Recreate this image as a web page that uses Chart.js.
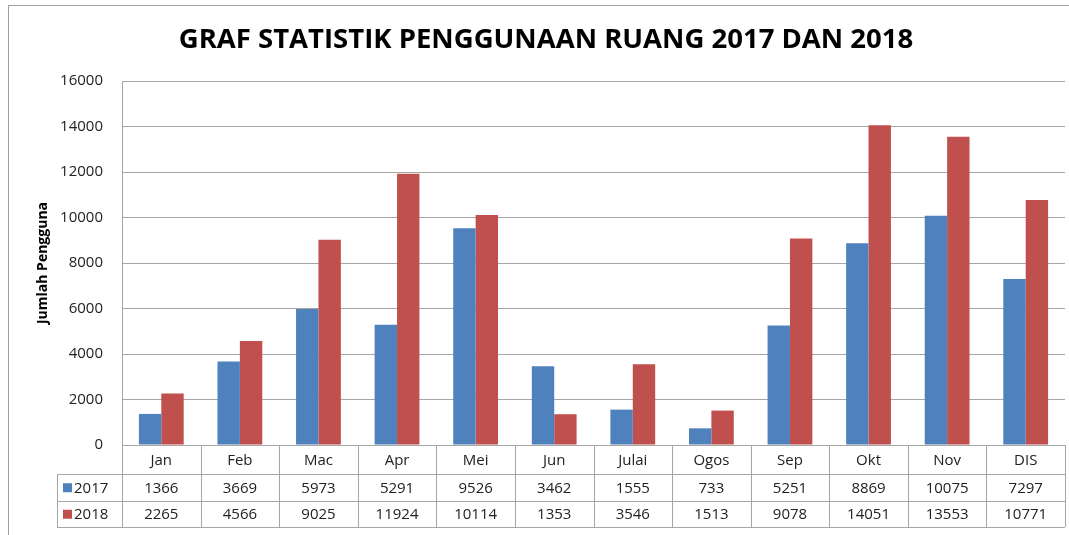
<!DOCTYPE html>
<html>
<head>
<meta charset="utf-8">
<script src="https://cdn.jsdelivr.net/npm/chart.js@4.4.0/dist/chart.umd.min.js"></script>
<style>
  html, body { margin: 0; padding: 0; background: #fff; overflow: hidden; }
  #box { position: absolute; left: 0; top: 0; width: 1069px; height: 535px; }
</style>
</head>
<body>
<div id="box"><canvas id="Grafico" width="1069" height="535"></canvas></div>
<script>
const labels = ['Jan', 'Feb', 'Mac', 'Apr', 'Mei', 'Jun', 'Julai', 'Ogos', 'Sep', 'Okt', 'Nov', 'DIS'];
const data2017 = [1366, 3669, 5973, 5291, 9526, 3462, 1555, 733, 5251, 8869, 10075, 7297];
const data2018 = [2265, 4566, 9025, 11924, 10114, 1353, 3546, 1513, 9078, 14051, 13553, 10771];
const yTicks = [0, 2000, 4000, 6000, 8000, 10000, 12000, 14000, 16000];

const fontFam = '"Open Sans", "DejaVu Sans", sans-serif';
const lineCol = '#a6a6a6';

// outer frame of the chart (the right side is cut off in the original)
const framePlugin = {
    id: 'frame',
    beforeDraw(chart) {
        const ctx = chart.ctx;
        ctx.save();
        ctx.strokeStyle = '#a0a0a0';
        ctx.lineWidth = 1;
        ctx.strokeRect(8.5, 5.5, 1200, 600);
        ctx.restore();
    }
};

// data table under the plot
const tablePlugin = {
    id: 'dataTable',
    afterDraw(chart) {
        const ctx = chart.ctx;
        const xs = chart.scales.x;
        const area = chart.chartArea;
        const n = labels.length;
        const w = (area.right - area.left) / n;
        const y0 = area.bottom, y1 = y0 + 29, y2 = y1 + 26.5, y3 = y2 + 26.5;
        const legLeft = 57;

        ctx.save();
        ctx.strokeStyle = lineCol;
        ctx.lineWidth = 1;
        ctx.beginPath();
        // horizontal lines
        ctx.moveTo(legLeft, Math.round(y1) + 0.5); ctx.lineTo(area.right, Math.round(y1) + 0.5);
        ctx.moveTo(legLeft, Math.round(y2) + 0.5); ctx.lineTo(area.right, Math.round(y2) + 0.5);
        ctx.moveTo(legLeft, Math.round(y3) + 0.5); ctx.lineTo(area.right, Math.round(y3) + 0.5);
        // vertical lines
        ctx.moveTo(legLeft + 0.5, Math.round(y1)); ctx.lineTo(legLeft + 0.5, Math.round(y3));
        for (let i = 0; i <= n; i++) {
            const x = Math.round(area.left + i * w) + 0.5;
            ctx.moveTo(x, y0); ctx.lineTo(x, Math.round(y3));
        }
        ctx.stroke();

        ctx.fillStyle = '#222';
        ctx.font = '15px ' + fontFam;
        ctx.textAlign = 'center';
        ctx.textBaseline = 'middle';
        labels.forEach(function(lab, i) {
            const cx = xs.getPixelForValue(i);
            ctx.fillText(lab, cx, (y0 + y1) / 2 + 1);
            ctx.fillText(String(data2017[i]), cx, (y1 + y2) / 2 + 1);
            ctx.fillText(String(data2018[i]), cx, (y2 + y3) / 2 + 1);
        });

        // legend keys
        chart.data.datasets.forEach(function(ds, k) {
            const cy = k === 0 ? (y1 + y2) / 2 : (y2 + y3) / 2;
            ctx.fillStyle = ds.backgroundColor;
            ctx.fillRect(legLeft + 6, cy - 4, 9, 9);
            ctx.fillStyle = '#222';
            ctx.textAlign = 'left';
            ctx.fillText(ds.label, legLeft + 17, cy + 1);
        });
        ctx.restore();
    }
};

const contexto = document.getElementById('Grafico').getContext('2d');

const config = {
    type: 'bar',
    data: {
        labels,
        datasets: [
            { label: '2017', data: data2017, backgroundColor: '#4f81bd', categoryPercentage: 0.57, barPercentage: 1 },
            { label: '2018', data: data2018, backgroundColor: '#c0504d', categoryPercentage: 0.57, barPercentage: 1 }
        ]
    },
    options: {
        responsive: false,
        animation: false,
        layout: { padding: { left: 27, right: 4, top: 5, bottom: 89 } },
        plugins: {
            legend: { display: false },
            tooltip: { enabled: false },
            title: {
                display: true,
                text: 'GRAF STATISTIK PENGGUNAAN RUANG 2017 DAN 2018',
                color: '#000',
                font: { family: fontFam, size: 27.5, weight: 'bold' },
                padding: { top: 19, bottom: 24 }
            }
        },
        scales: {
            x: {
                ticks: { display: false },
                grid: { display: false },
                border: { display: false },
                afterFit(scale) { scale.height = 1; }
            },
            y: {
                min: 0,
                max: 16000,
                afterBuildTicks(scale) { scale.ticks = yTicks.map(v => ({ value: v })); },
                afterFit(scale) { scale.width = 95; },
                ticks: {
                    color: '#222',
                    padding: 19,
                    font: { family: fontFam, size: 15 },
                    callback: function(v) { return String(v); }
                },
                grid: { color: lineCol, drawTicks: false },
                border: { color: lineCol },
                title: {
                    display: true,
                    text: 'Jumlah Pengguna',
                    color: '#000',
                    font: { family: fontFam, size: 14, weight: 'bold' },
                    padding: { top: 8, bottom: 0 }
                }
            }
        }
    },
    plugins: [framePlugin, tablePlugin]
};

const Grafico = new Chart(contexto, config);
</script>
</body>
</html>
